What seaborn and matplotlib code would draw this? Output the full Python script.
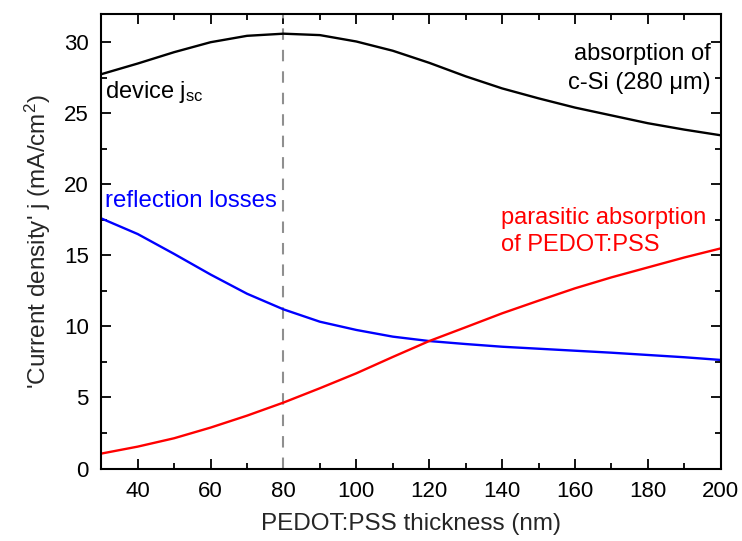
import numpy as np
import pandas as pd
import matplotlib
matplotlib.use("Agg")
import matplotlib.pyplot as plt
from matplotlib.ticker import MultipleLocator
import seaborn as sns

# PEDOT:PSS layer thickness (nm)
thickness = [30, 40, 50, 60, 70, 80, 90, 100, 110, 120, 130, 140, 150, 160, 170, 180, 190, 200]

# Current density equivalents (mA/cm^2)
device_jsc = [27.75, 28.5, 29.3, 30.0, 30.45, 30.6, 30.5, 30.05, 29.4, 28.55, 27.6, 26.75,
              26.05, 25.4, 24.85, 24.3, 23.85, 23.45]
reflection = [17.6, 16.5, 15.1, 13.65, 12.3, 11.2, 10.33, 9.75, 9.28, 8.97, 8.76, 8.57,
              8.43, 8.29, 8.15, 7.99, 7.83, 7.64]
parasitic = [1.05, 1.54, 2.13, 2.88, 3.72, 4.64, 5.65, 6.70, 7.85, 8.97, 9.94, 10.92,
             11.81, 12.68, 13.45, 14.15, 14.85, 15.49]

optimum_thickness = 80

df = pd.DataFrame({
    "thickness": thickness * 3,
    "j": device_jsc + reflection + parasitic,
    "series": ["jsc"] * len(thickness) + ["refl"] * len(thickness) + ["para"] * len(thickness),
})

sns.set_theme(style="ticks")
plt.rcParams["font.family"] = ["Liberation Sans", "DejaVu Sans"]
plt.rcParams["mathtext.fontset"] = "custom"
plt.rcParams["mathtext.rm"] = "Liberation Sans"
plt.rcParams["mathtext.it"] = "Liberation Sans:italic"

fig = plt.figure(figsize=(7.42, 5.41), dpi=100)
ax = fig.add_axes([0.1365, 0.134, 0.8348, 0.8405])

sns.lineplot(data=df, x="thickness", y="j", hue="series",
             palette={"jsc": "black", "refl": "#0000ff", "para": "#ff0000"},
             linewidth=1.7, legend=False, ax=ax)

ax.axvline(optimum_thickness, color="#8f8f8f", linestyle=(0, (5.5, 4.8)), linewidth=1.5, zorder=1)

ax.set_xlim(30, 200)
ax.set_ylim(0, 32)
ax.xaxis.set_major_locator(MultipleLocator(20))
ax.xaxis.set_minor_locator(MultipleLocator(10))
ax.yaxis.set_major_locator(MultipleLocator(5))
ax.yaxis.set_minor_locator(MultipleLocator(2.5))

for s in ax.spines.values():
    s.set_visible(True)
    s.set_linewidth(1.5)
    s.set_color("black")

ax.tick_params(which="both", direction="in", top=True, right=True, width=1.3, colors="black")
ax.tick_params(which="major", length=7, labelsize=16, pad=9)
ax.tick_params(which="minor", length=4)

ax.set_xlabel("PEDOT:PSS thickness (nm)", fontsize=17.5, labelpad=8)
ax.set_ylabel("'Current density' j (mA/cm$^2$)", fontsize=17.5, labelpad=8)

ax.text(31.0, 26.5, r"device j$_\mathregular{sc}$", fontsize=17, color="black",
        ha="left", va="center")
ax.text(197.3, 28.15, "absorption of\nc-Si (280 \u03bcm)", fontsize=17, color="black",
        ha="right", va="center", linespacing=1.45)
ax.text(139.6, 16.7, "parasitic absorption\nof PEDOT:PSS", fontsize=17, color="#ff0000",
        ha="left", va="center", linespacing=1.3)
ax.text(31.0, 18.8, "reflection losses", fontsize=17.3, color="#0000ff",
        ha="left", va="center")

fig.savefig("out.png", dpi=100)
